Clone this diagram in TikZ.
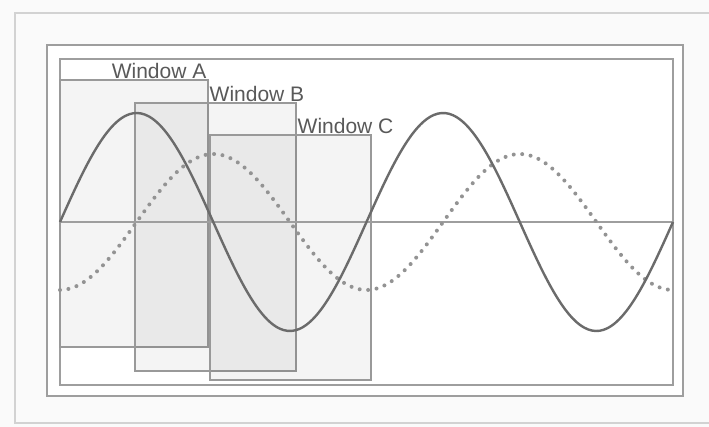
\documentclass[tikz,border=0pt]{standalone}
\usepackage{fontspec}
\setmainfont{Liberation Sans}
\usepackage{xcolor}
\usetikzlibrary{calc}

\definecolor{framegray}{gray}{0.62}
\definecolor{wavegray}{gray}{0.42}
\definecolor{labelgray}{gray}{0.35}

\begin{document}
\begin{tikzpicture}[x=1pt, y=-1pt,
    frame/.style={draw=framegray, line width=1.2pt},
    win/.style={draw=gray!80, line width=1.2pt, fill=black, fill opacity=0.045},
    wave/.style={draw=wavegray, line width=2.4pt, smooth, samples=160},
    dotwave/.style={draw=gray!85, line width=4pt, line cap=round,
      dash pattern=on 0pt off 8.5pt, smooth, samples=160},
    winlabel/.style={font=\fontsize{21}{21}\selectfont, text=labelgray, inner sep=1.5pt}]
  \useasboundingbox (0,0) rectangle (709,427);
  \fill[gray!4] (0,0) rectangle (709,427);
  \fill[white] (47,45) rectangle (683,396);
  % frames
  \draw[frame, draw=gray!35] (709,13) -- (15,13) -- (15,423) -- (709,423);
  \draw[frame] (47,45) rectangle (683,396);
  \draw[frame] (60,59) rectangle (673,385);
  % windows
  \coordinate (a0) at (60,80);  \coordinate (a1) at (208,347);
  \coordinate (b0) at (135,103); \coordinate (b1) at (296,371);
  \coordinate (c0) at (210,135); \coordinate (c1) at (371,380);
  \draw[win] (a0) rectangle (a1);
  \draw[win] (b0) rectangle (b1);
  \draw[win] (c0) rectangle (c1);
  \node[winlabel, anchor=south east] (labA) at (a1 |- a0) {Window A};
  \node[winlabel, anchor=south west] (labB) at (a1 |- b0) {Window B};
  \node[winlabel, anchor=south west] (labC) at (b1 |- c0) {Window C};
  % axis and signals
  \draw[frame] (60,222) -- (673,222);
  \draw[dotwave] plot[domain=60:673] (\x, {222 + 68*cos((\x-60)/306.5*360)});
  \draw[wave] plot[domain=60:673] (\x, {222 - 109*sin((\x-60)/306.5*360)});
\end{tikzpicture}
\end{document}
